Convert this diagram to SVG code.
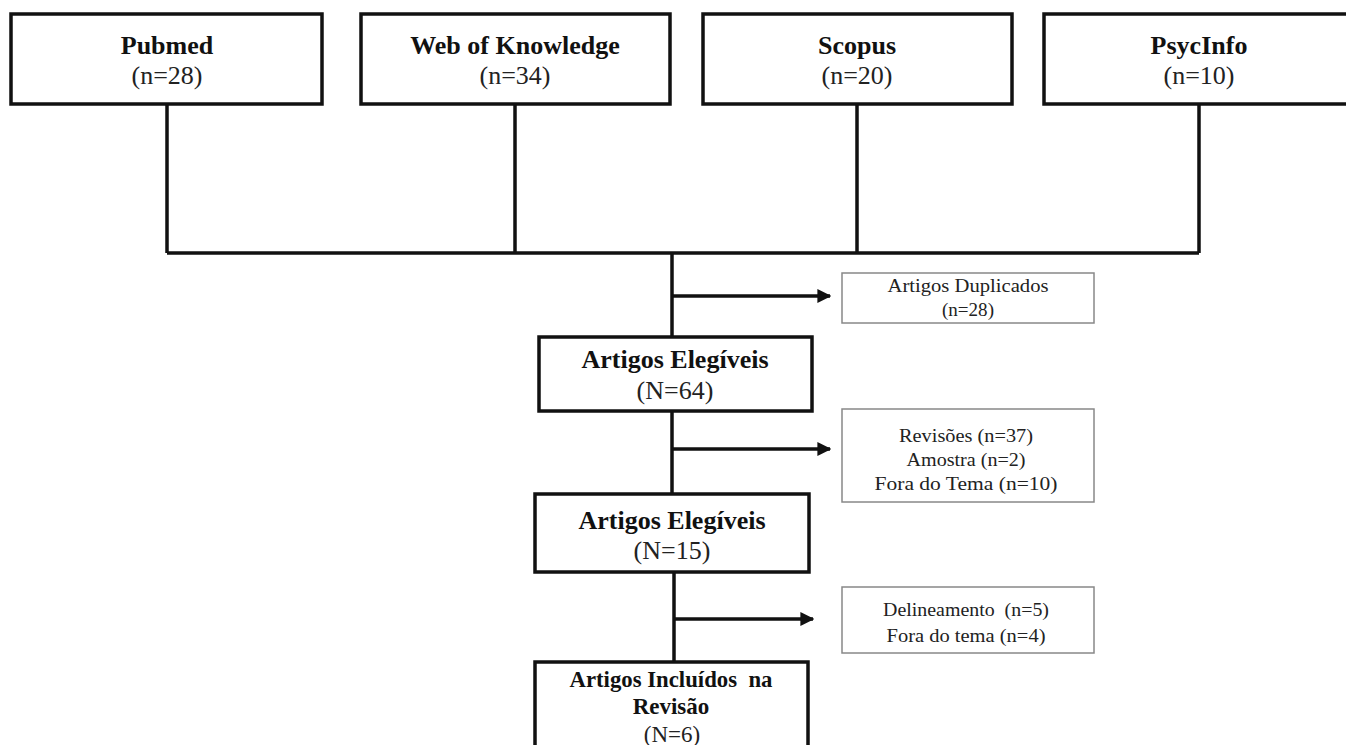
<svg xmlns="http://www.w3.org/2000/svg" width="1346" height="745" viewBox="0 0 1346 745">
<style>
.main{fill:#fff;stroke:#111;stroke-width:3.5}
.side{fill:#fff;stroke:#888;stroke-width:1.5}
.b{font-family:"Liberation Serif","Times New Roman",serif;font-weight:bold;fill:#111;text-anchor:middle}
.r{font-family:"Liberation Serif","Times New Roman",serif;fill:#222;text-anchor:middle}
.big{font-size:26px}
.sm{font-size:19.5px}
.ln{fill:none;stroke:#111;stroke-width:3.5}
</style>
<defs>
<marker id="ah" viewBox="0 0 10 10" refX="9" refY="5" markerWidth="4" markerHeight="4" markerUnits="strokeWidth" orient="auto">
<path d="M0,0 L10,5 L0,10 z" fill="#111"/>
</marker>
</defs>
<rect width="1346" height="745" fill="#fff"/>
<g id="connectors">
<path class="ln" d="M167,104 V253 M515,104 V253 M857,104 V253 M1199,104 V253 M167,253 H1199"/>
<path class="ln" d="M672,253 V337"/>
<path class="ln" d="M672,296 H830" marker-end="url(#ah)"/>
<path class="ln" d="M672,411 V494"/>
<path class="ln" d="M672,449 H830" marker-end="url(#ah)"/>
<path class="ln" d="M674,572 V661"/>
<path class="ln" d="M674,619 H813" marker-end="url(#ah)"/>
</g>
<g id="pubmed">
<rect class="main" x="11" y="14" width="311" height="90"/>
<text class="b big" x="167" y="54">Pubmed</text>
<text class="r big" x="167" y="84">(n=28)</text>
</g>
<g id="wok">
<rect class="main" x="361" y="14" width="309" height="90"/>
<text class="b big" x="515" y="54">Web of Knowledge</text>
<text class="r big" x="515" y="84">(n=34)</text>
</g>
<g id="scopus">
<rect class="main" x="703" y="14" width="309" height="90"/>
<text class="b big" x="857" y="54">Scopus</text>
<text class="r big" x="857" y="84">(n=20)</text>
</g>
<g id="psycinfo">
<rect class="main" x="1044" y="14" width="310" height="90"/>
<text class="b big" x="1199" y="54">PsycInfo</text>
<text class="r big" x="1199" y="84">(n=10)</text>
</g>
<g id="duplicados">
<rect class="side" x="842" y="273" width="252" height="50"/>
<text class="r sm" x="968" y="292" textLength="161" lengthAdjust="spacingAndGlyphs">Artigos Duplicados</text>
<text class="r sm" x="968" y="316" textLength="52" lengthAdjust="spacingAndGlyphs">(n=28)</text>
</g>
<g id="elegiveis64">
<rect class="main" x="539" y="337" width="273" height="74"/>
<text class="b big" x="675" y="368">Artigos Elegíveis</text>
<text class="r big" x="675" y="399">(N=64)</text>
</g>
<g id="exclusao1">
<rect class="side" x="842" y="409" width="252" height="93"/>
<text class="r sm" x="966" y="442" textLength="134" lengthAdjust="spacingAndGlyphs">Revisões (n=37)</text>
<text class="r sm" x="966" y="466" textLength="119" lengthAdjust="spacingAndGlyphs">Amostra (n=2)</text>
<text class="r sm" x="966" y="490" textLength="183" lengthAdjust="spacingAndGlyphs">Fora do Tema (n=10)</text>
</g>
<g id="elegiveis15">
<rect class="main" x="535" y="494" width="274" height="78"/>
<text class="b big" x="672" y="529">Artigos Elegíveis</text>
<text class="r big" x="672" y="559">(N=15)</text>
</g>
<g id="exclusao2">
<rect class="side" x="842" y="587" width="252" height="66"/>
<text class="r sm" x="966" y="616" textLength="166" lengthAdjust="spacingAndGlyphs" xml:space="preserve">Delineamento  (n=5)</text>
<text class="r sm" x="966" y="642" textLength="159" lengthAdjust="spacingAndGlyphs">Fora do tema (n=4)</text>
</g>
<g id="incluidos">
<rect class="main" x="535" y="662" width="273" height="100"/>
<text class="b" font-size="23" x="671" y="687" textLength="203" lengthAdjust="spacingAndGlyphs" xml:space="preserve">Artigos Incluídos  na</text>
<text class="b" font-size="23" x="671" y="714">Revisão</text>
<text class="r" font-size="23" x="672" y="742">(N=6)</text>
</g>
</svg>
